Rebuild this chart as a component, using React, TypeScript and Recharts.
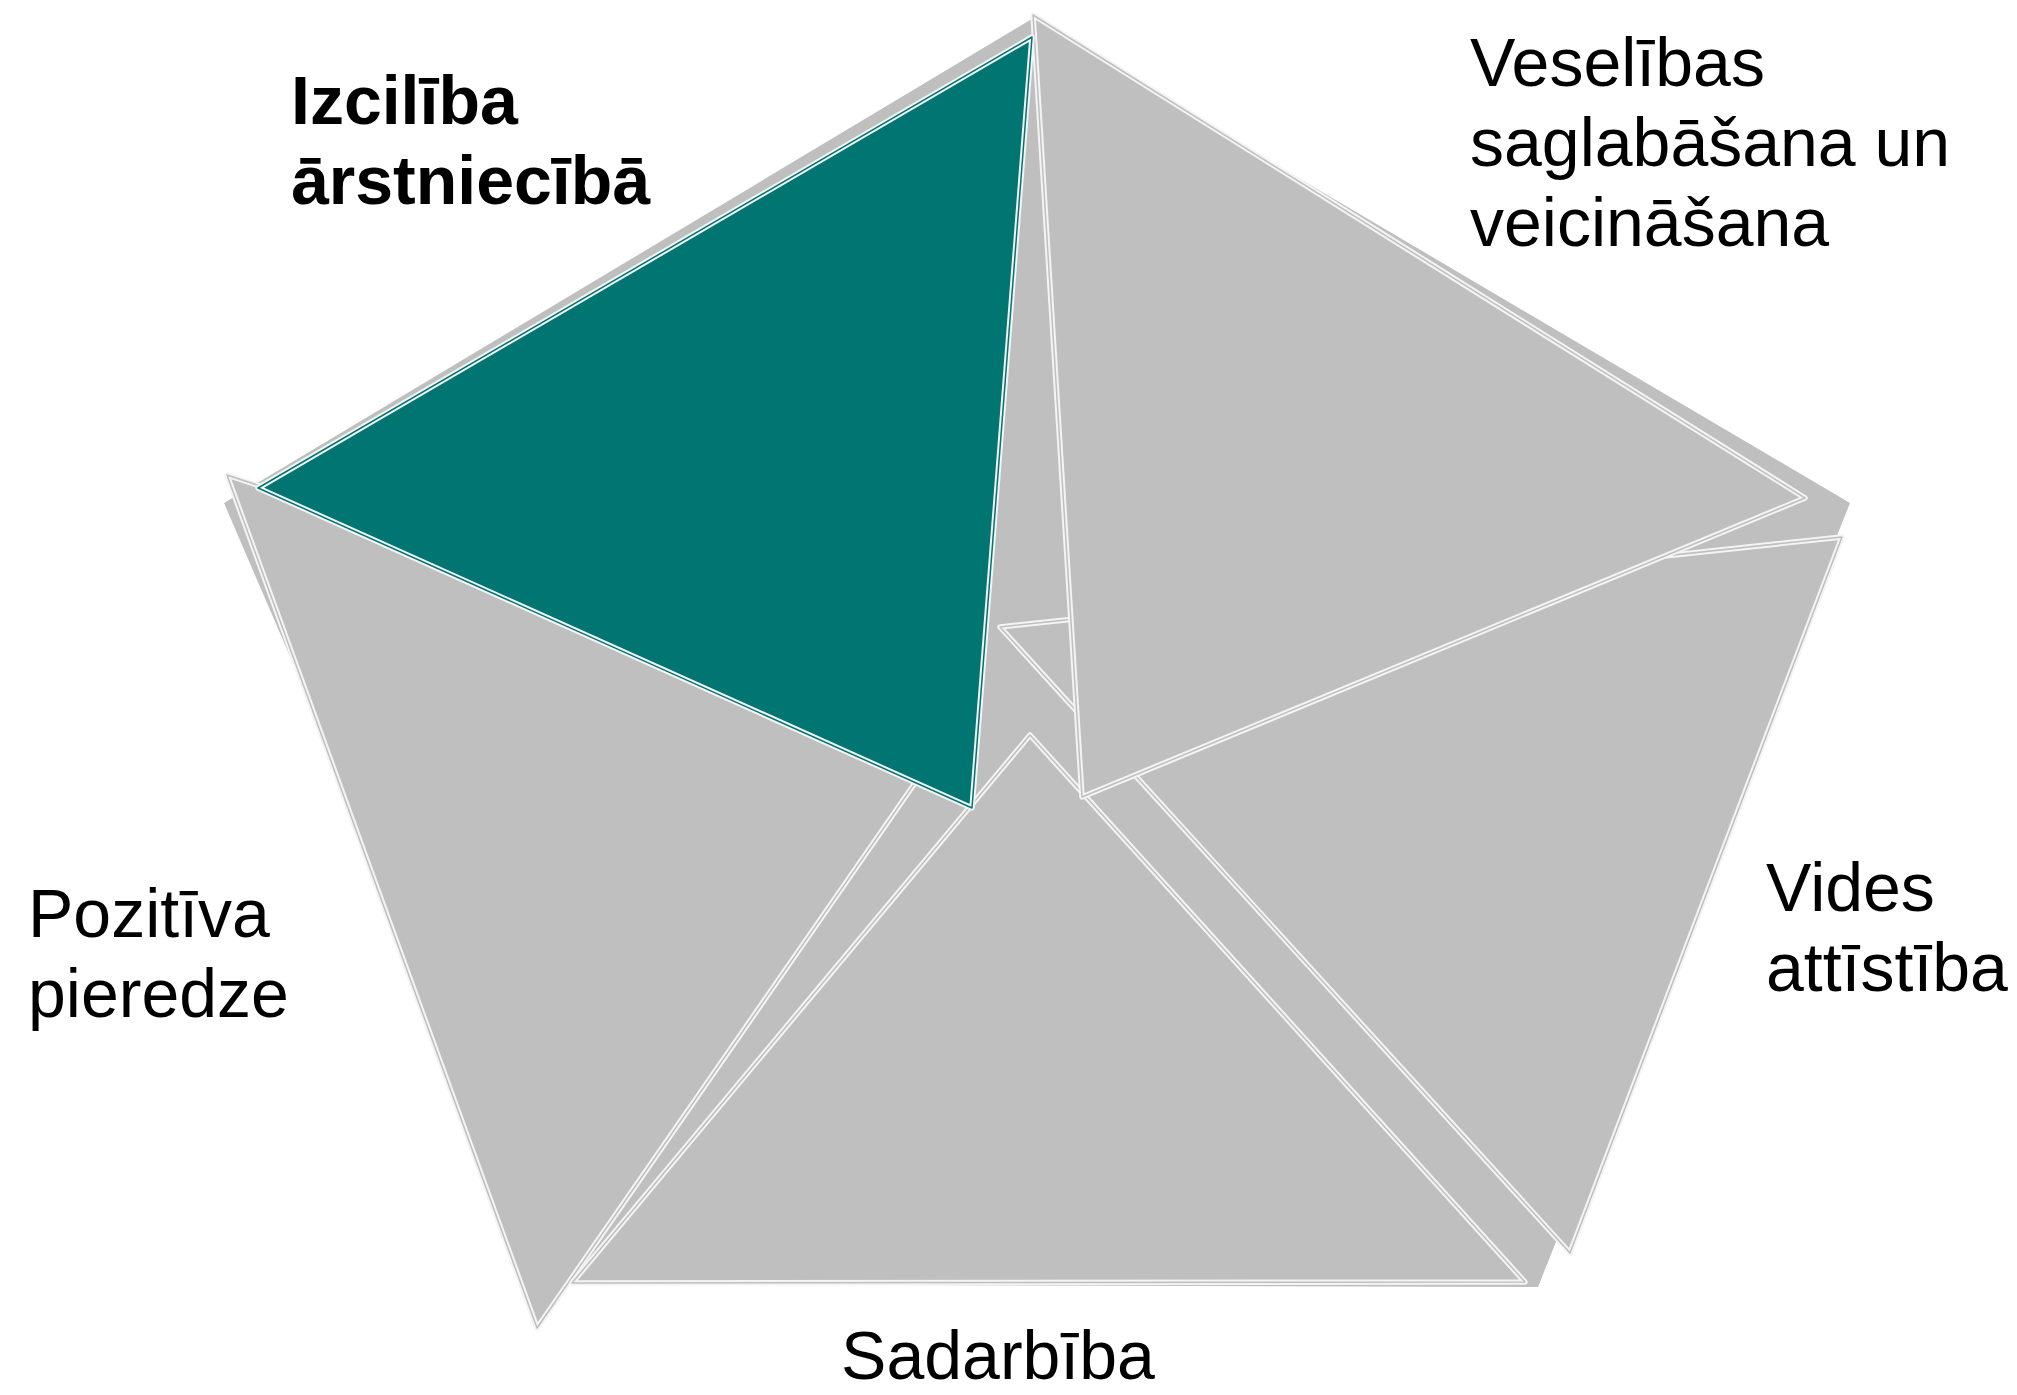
import React from 'react';
import { ScatterChart, Scatter, XAxis, YAxis } from 'recharts';

const W = 2017;
const H = 1395;

// vertices of the pieces (x right, y down)
const shadowPentagon = [
  { x: 224, y: 503 },
  { x: 1030, y: 20 },
  { x: 1850, y: 503 },
  { x: 1538, y: 1287 },
  { x: 560, y: 1284 },
];
const izciliba = [
  { x: 1032, y: 37 },
  { x: 258, y: 488 },
  { x: 972, y: 808 },
];
const veseliba = [
  { x: 1033, y: 15 },
  { x: 1805, y: 498 },
  { x: 1082, y: 797 },
];
const vide = [
  { x: 1000, y: 627 },
  { x: 1842, y: 537 },
  { x: 1570, y: 1253 },
];
const sadarbiba = [
  { x: 1030, y: 735 },
  { x: 1525, y: 1282 },
  { x: 572, y: 1283 },
];
const pieredze = [
  { x: 227, y: 475 },
  { x: 960, y: 718 },
  { x: 537, y: 1328 },
];

// labels
const labelLines = [
  ['Izcilība', 'ārstniecībā'],
  ['Veselības', 'saglabāšana un', 'veicināšana'],
  ['Vides', 'attīstība'],
  ['Sadarbība'],
  ['Pozitīva', 'pieredze'],
];
const labelX = [291, 1470, 1766, 998, 28];
const labelY = [124, 86, 911, 1379, 937];
const labelBold = [true, false, false, false, false];
const labelAnchor = ['start', 'start', 'start', 'middle', 'start'];

const labelData = labelLines.map((lines, i) => ({
  x: labelX[i],
  y: labelY[i],
  lines,
  bold: labelBold[i],
  anchor: labelAnchor[i],
}));

const GRAY = '#bfbfbf';
const TEAL = '#007571';
const EDGE = '#f4f4f4';

const polygon = (fill: string, edge?: string) => (props: any) => {
  const pts = (props.points || []).map((p: any) => `${p.x},${p.y}`).join(' ');
  return (
    <g>
      <polygon
        points={pts}
        fill={fill}
        stroke={edge || 'none'}
        strokeWidth={5.5}
        strokeLinejoin="round"
      />
      {edge && (
        <polygon points={pts} fill="none" stroke={fill} strokeWidth={1.5} strokeLinejoin="round" />
      )}
    </g>
  );
};

const NoDot = () => <g />;

const LabelText = (props: any) => {
  const { cx, cy, payload } = props;
  return (
    <text
      x={cx}
      y={cy}
      textAnchor={payload.anchor}
      fontFamily="'Liberation Sans', Arial, sans-serif"
      fontSize={68}
      fontWeight={payload.bold ? 700 : 400}
      fill="#000"
    >
      {payload.lines.map((l: string, i: number) => (
        <tspan key={i} x={cx} dy={i === 0 ? 0 : 80}>
          {l}
        </tspan>
      ))}
    </text>
  );
};

export default function App() {
  return (
    <div style={{ position: 'absolute', left: 0, top: 0, width: W, height: H, background: '#fff' }}>
      <ScatterChart width={W} height={H} margin={{ top: 0, right: 0, bottom: 0, left: 0 }}>
        <XAxis type="number" dataKey="x" domain={[0, W]} allowDataOverflow hide />
        <YAxis type="number" dataKey="y" domain={[0, H]} allowDataOverflow reversed hide />
        <Scatter data={shadowPentagon} line={polygon(GRAY)} shape={NoDot} isAnimationActive={false} />
        <Scatter data={pieredze} line={polygon(GRAY, EDGE)} shape={NoDot} isAnimationActive={false} />
        <Scatter data={vide} line={polygon(GRAY, EDGE)} shape={NoDot} isAnimationActive={false} />
        <Scatter data={sadarbiba} line={polygon(GRAY, EDGE)} shape={NoDot} isAnimationActive={false} />
        <Scatter data={veseliba} line={polygon(GRAY, EDGE)} shape={NoDot} isAnimationActive={false} />
        <Scatter data={izciliba} line={polygon(TEAL, EDGE)} shape={NoDot} isAnimationActive={false} />
        <Scatter data={labelData} shape={LabelText} isAnimationActive={false} />
      </ScatterChart>
    </div>
  );
}
